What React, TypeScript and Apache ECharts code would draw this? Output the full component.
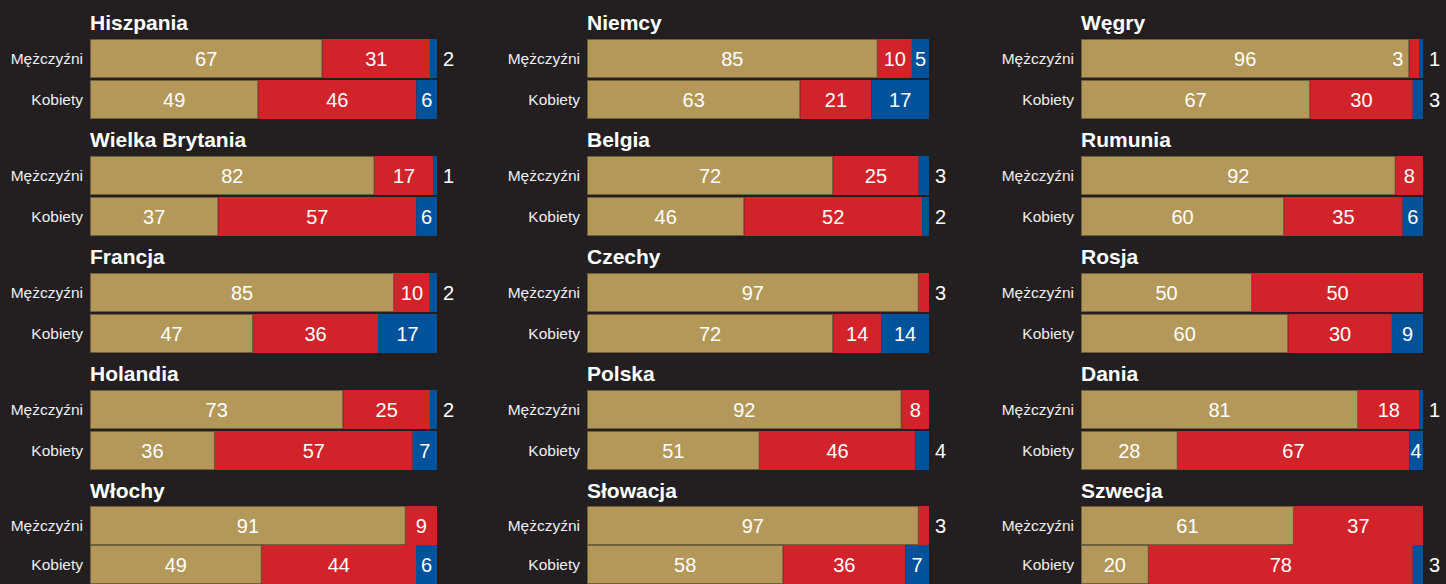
import React, { useEffect, useRef } from "react";
import * as echarts from "echarts";

const countries = [
  "Hiszpania", "Wielka Brytania", "Francja", "Holandia", "Włochy",
  "Niemcy", "Belgia", "Czechy", "Polska", "Słowacja",
  "Węgry", "Rumunia", "Rosja", "Dania", "Szwecja",
];
const rowLabels = ["Mężczyźni", "Kobiety"];

const menGold = [67, 82, 85, 73, 91, 85, 72, 97, 92, 97, 96, 92, 50, 81, 61];
const menRed = [31, 17, 10, 25, 9, 10, 25, 3, 8, 3, 3, 8, 50, 18, 37];
const menBlue = [2, 1, 2, 2, 0, 5, 3, 0, 0, 0, 1, 0, 0, 1, 0];
const womenGold = [49, 37, 47, 36, 49, 63, 46, 72, 51, 58, 67, 60, 60, 28, 20];
const womenRed = [46, 57, 36, 57, 44, 21, 52, 14, 46, 36, 30, 35, 30, 67, 78];
const womenBlue = [6, 6, 17, 7, 6, 17, 2, 14, 4, 7, 3, 6, 9, 4, 3];

const GOLD = "#b39859";
const RED = "#d2232a";
const BLUE = "#00529b";
const BG = "#231f20";

const colLeft = [90, 587, 1081];
const colWidth = [347, 342, 342];
const firstTop = 38;
const pitch = 117;
const gridH = 82;

function buildOption() {
  const grids: any[] = [];
  const xAxes: any[] = [];
  const yAxes: any[] = [];
  const series: any[] = [];
  const graphics: any[] = [];

  countries.forEach((name, i) => {
    const col = Math.floor(i / 5);
    const row = i % 5;
    const top = firstTop + row * pitch;
    grids.push({ left: colLeft[col], top, width: colWidth[col], height: gridH, containLabel: false });
    xAxes.push({ gridIndex: i, type: "value", min: 0, max: 100, show: false });
    yAxes.push({
      gridIndex: i,
      type: "category",
      data: rowLabels,
      inverse: true,
      axisLine: { show: false },
      axisTick: { show: false },
      axisLabel: { color: "#eeeeee", fontSize: 15.5, margin: 7, fontFamily: "Liberation Sans, Arial, sans-serif" },
      splitLine: { show: false },
    });
    graphics.push({
      type: "text",
      x: colLeft[col],
      y: top - 26,
      style: {
        text: name,
        fill: "#ffffff",
        fontSize: 21,
        fontWeight: "bold",
        fontFamily: "Liberation Sans, Arial, sans-serif",
        verticalAlign: "top",
      },
    });

    const rowsRaw = [
      [menGold[i], menRed[i], menBlue[i]],
      [womenGold[i], womenRed[i], womenBlue[i]],
    ];
    const colors = [GOLD, RED, BLUE];
    const names = ["gold", "red", "blue"];
    for (let s = 0; s < 3; s++) {
      const data = rowsRaw.map((vals) => {
        const sum = vals[0] + vals[1] + vals[2];
        const raw = vals[s];
        const norm = (raw / sum) * 100;
        let lastIdx = 0;
        vals.forEach((v, k) => { if (v > 0) lastIdx = k; });
        let label: any;
        if (raw === 0) label = { show: false };
        else if (norm >= 4) label = { show: true, position: "inside", formatter: String(raw) };
        else if (s === lastIdx) label = { show: true, position: "right", distance: 6, formatter: String(raw) };
        else label = { show: true, position: "left", distance: 6, formatter: String(raw) };
        return { value: norm, label };
      });
      series.push({
        type: "bar",
        name: names[s],
        xAxisIndex: i,
        yAxisIndex: i,
        stack: "st" + i,
        barWidth: 39,
        itemStyle: s === 0
          ? { color: colors[s], borderColor: "#6f603d", borderWidth: 1 }
          : { color: colors[s] },
        label: {
          color: "#ffffff",
          fontSize: 20,
          fontFamily: "Liberation Sans, Arial, sans-serif",
        },
        data,
      });
    }
  });

  return {
    animation: false,
    backgroundColor: BG,
    grid: grids,
    xAxis: xAxes,
    yAxis: yAxes,
    series,
    graphic: graphics,
  };
}

export default function App() {
  const ref = useRef<HTMLDivElement>(null);
  useEffect(() => {
    document.body.style.margin = "0";
    document.body.style.background = BG;
    const chart = echarts.init(ref.current!, null, { renderer: "svg" });
    chart.setOption(buildOption());
    return () => chart.dispose();
  }, []);
  return <div ref={ref} style={{ width: 1446, height: 584 }} />;
}
